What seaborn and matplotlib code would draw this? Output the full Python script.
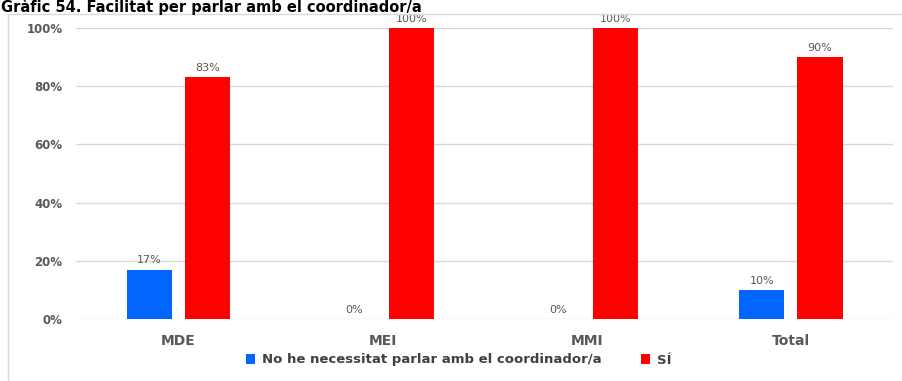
import matplotlib
matplotlib.use("Agg")
import matplotlib.pyplot as plt
import seaborn as sns
import pandas as pd
from matplotlib.patches import Rectangle, Patch

categories = ["MDE", "MEI", "MMI", "Total"]
series_names = ["No he necessitat parlar amb el coordinador/a", "SÍ"]
no_necessitat = [17, 0, 0, 10]
si = [83, 100, 100, 90]
yticks = [0, 20, 40, 60, 80, 100]
colors = ["#0066FF", "#FF0000"]

df = pd.DataFrame({
    "cat": categories * 2,
    "serie": [series_names[0]] * 4 + [series_names[1]] * 4,
    "val": no_necessitat + si,
})

sns.set_theme(style="white")
plt.rcParams["font.family"] = ["DejaVu Sans"]

W, H = 903, 381
fig = plt.figure(figsize=(W / 100, H / 100), dpi=100)
ax = fig.add_axes([76.5 / W, 62 / H, (893 - 76.5) / W, 291 / H])

sns.barplot(data=df, x="cat", y="val", hue="serie", order=categories,
            hue_order=series_names, palette=colors, width=0.57, gap=0.224,
            saturation=1, linewidth=0, ax=ax, legend=False)

ax.set_ylim(0, 100)
ax.set_xlim(-0.5, 3.5)
ax.set_yticks(yticks)
ax.set_yticklabels([f"{v}%" for v in yticks], fontsize=8.5, fontweight="bold", color="#595959")
ax.tick_params(axis="y", length=0, pad=10)
ax.tick_params(axis="x", length=0, pad=11)
for lbl in ax.get_xticklabels():
    lbl.set_fontsize(10)
    lbl.set_fontweight("bold")
    lbl.set_color("#595959")
ax.set_xlabel("")
ax.set_ylabel("")
ax.yaxis.grid(True, color="#d9d9d9", linewidth=1)
ax.set_axisbelow(True)
for s in ax.spines.values():
    s.set_visible(False)

for cont in ax.containers:
    ax.bar_label(cont, labels=[f"{v:.0f}%" for v in cont.datavalues],
                 padding=3, fontsize=8, color="#595959")

handles = [Patch(facecolor=c, edgecolor="none") for c in colors]
leg = fig.legend(handles, series_names, loc="center", bbox_to_anchor=(0.508, 1 - 360 / H),
                 ncol=2, frameon=False, handlelength=0.7, handleheight=0.7,
                 columnspacing=3.0, handletextpad=0.5,
                 prop={"weight": "bold", "size": 9.5})
for t in leg.get_texts():
    t.set_color("#404040")

fig.patches.append(Rectangle((8 / W, -0.01), 1.0, 1 - 13.5 / H + 0.01, transform=fig.transFigure,
                             fill=False, edgecolor="#d9d9d9", linewidth=1, zorder=0))

fig.text(1 / W, 1 - 12 / H, "Gràfic 54. Facilitat per parlar amb el coordinador/a",
         fontsize=10.5, fontweight="bold", color="black", ha="left", va="baseline")

fig.savefig("out.png", dpi=100)
